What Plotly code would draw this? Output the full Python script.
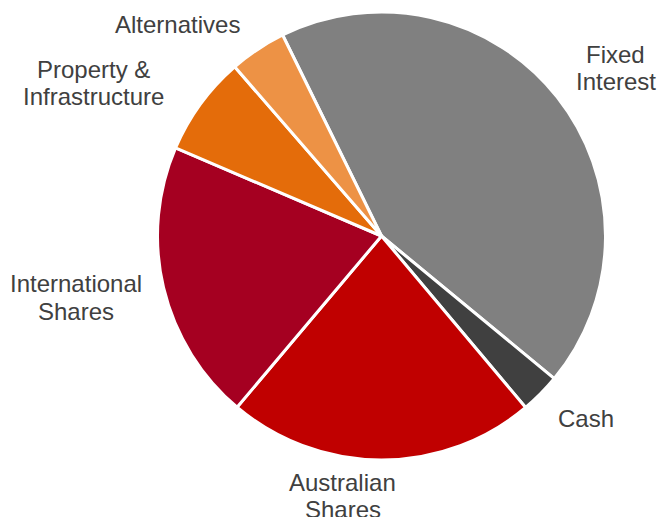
import plotly.graph_objects as go

# Data
categories = ["Fixed Interest", "Cash", "Australian Shares", "International Shares",
              "Property & Infrastructure", "Alternatives"]
label_lines = [["Fixed", "Interest"], ["Cash"], ["Australian", "Shares"],
               ["International", "Shares"], ["Property &", "Infrastructure"], ["Alternatives"]]
values = [43.3, 2.9, 22.3, 20.3, 7.2, 4.1]

# Styles
colors = ["#808080", "#404040", "#C00000", "#A50021", "#E46C0A", "#ED9245"]
# centre x and first-line centre y (pixels from top-left) of each label
label_pos = [(615.5, 54), (585.5, 418.5), (342.5, 482), (76, 283.5), (93, 69.5), (177, 24.5)]
line_gap = 27.5

W, H = 659, 517

fig = go.Figure(go.Pie(
    labels=categories,
    values=values,
    sort=False,
    direction="clockwise",
    rotation=-26.2,
    marker=dict(colors=colors, line=dict(color="white", width=3)),
    textinfo="none",
    hoverinfo="label+percent",
    domain=dict(x=[157.5 / W, 605.5 / W], y=[(H - 460) / H, (H - 12) / H]),
    showlegend=False,
))

for lines, (px, py) in zip(label_lines, label_pos):
    for k, line in enumerate(lines):
        fig.add_annotation(
            x=px / W, y=1 - (py + k * line_gap) / H, xref="paper", yref="paper",
            text=line, showarrow=False, xanchor="center", yanchor="middle",
            font=dict(family="Liberation Sans", size=24, color="#404040"),
        )

fig.update_layout(
    width=W, height=H,
    margin=dict(l=0, r=0, t=0, b=0),
    paper_bgcolor="white",
    plot_bgcolor="white",
)

fig.write_html("out.html", config={"displayModeBar": False},
               post_script="document.body.style.margin='0';")
